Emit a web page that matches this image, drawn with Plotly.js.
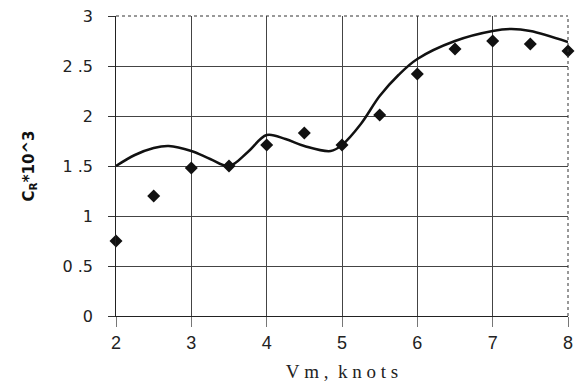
<!DOCTYPE html>
<html>
<head>
<meta charset="utf-8">
<script src="https://cdn.plot.ly/plotly-3.0.1.min.js"></script>
<style>html,body{margin:0;padding:0;background:#fff;}#chart{width:576px;height:384px;}</style>
</head>
<body>
<div id="chart"></div>
<script>
// Measured points (diamonds)
const pointsX = [2, 2.5, 3, 3.5, 4, 4.5, 5, 5.5, 6, 6.5, 7, 7.5, 8];
const pointsY = [0.75, 1.2, 1.48, 1.5, 1.71, 1.83, 1.71, 2.01, 2.42, 2.67, 2.75, 2.72, 2.65];

// Smooth fitted curve
const curveX = [2, 2.25, 2.5, 2.7, 3, 3.25, 3.5, 3.75, 4, 4.25, 4.5, 4.85, 5, 5.25, 5.5, 5.75, 6, 6.5, 7, 7.25, 7.5, 8];
const curveY = [1.5, 1.61, 1.68, 1.70, 1.65, 1.57, 1.50, 1.64, 1.81, 1.77, 1.70, 1.65, 1.71, 1.92, 2.2, 2.41, 2.57, 2.75, 2.85, 2.87, 2.85, 2.74];

const yTickVals = [0, 0.5, 1, 1.5, 2, 2.5, 3];
const yTickText = ["0", "0 .5", "1", "1 .5", "2", "2 .5", "3"];
const xTickVals = [2, 3, 4, 5, 6, 7, 8];
const xTitle = 'V\u00a0m\u00a0,\u00a0\u00a0k\u00a0n\u00a0o\u00a0t\u00a0s';
const yTitle = '\u00a0\u00a0\u00a0<b>C<sub>R</sub>*10^3</b>';
const pad = '\u00a0\u00a0\u200a';

const traces = [
  {
    x: curveX, y: curveY, mode: 'lines', type: 'scatter',
    line: {color: '#111', width: 2.5, shape: 'spline', smoothing: 1},
    hoverinfo: 'skip', showlegend: false
  },
  {
    x: pointsX, y: pointsY, mode: 'markers', type: 'scatter',
    marker: {symbol: 'diamond', size: 10, color: '#111'},
    showlegend: false, cliponaxis: false
  }
];

const layout = {
  width: 576, height: 384,
  margin: {l: 116, r: 8, t: 16, b: 68, autoexpand: false},
  paper_bgcolor: '#fff', plot_bgcolor: '#fff',
  font: {family: 'Liberation Sans, Arial, sans-serif', color: '#222', size: 16},
  showlegend: false,
  xaxis: {
    range: [2, 8], tickvals: xTickVals, ticktext: xTickVals.map(String),
    showgrid: true, gridcolor: '#444', gridwidth: 1,
    showline: true, linecolor: '#222', linewidth: 1,
    ticks: 'outside', ticklen: 10, tickcolor: '#777',
    automargin: true,
    zeroline: false,
    tickfont: {size: 18, family: 'Liberation Sans, Arial, sans-serif', color: '#222'},
    title: {text: xTitle, font: {family: 'Liberation Serif, Times New Roman, serif', size: 19, color: '#222'}, standoff: 13}
  },
  yaxis: {
    range: [0, 3], tickvals: yTickVals, ticktext: yTickText.map(t => t + pad),
    showgrid: true, gridcolor: '#444', gridwidth: 1,
    showline: true, linecolor: '#222', linewidth: 1,
    ticks: 'outside', ticklen: 7, tickcolor: '#333',
    automargin: true,
    zeroline: false,
    tickfont: {size: 16, family: 'DejaVu Sans, Verdana, sans-serif', color: '#222'},
    title: {text: yTitle, font: {family: 'DejaVu Sans, Verdana, sans-serif', size: 15, color: '#111'}, standoff: 24}
  },
  shapes: [
    {type: 'line', xref: 'paper', yref: 'paper', x0: 0, x1: 1, y0: 1, y1: 1, line: {color: '#333', width: 1, dash: 'dot'}},
    {type: 'line', xref: 'paper', yref: 'paper', x0: 1, x1: 1, y0: 0, y1: 1, line: {color: '#333', width: 1, dash: 'dot'}}
  ]
};

Plotly.newPlot('chart', traces, layout, {staticPlot: true, displayModeBar: false});
</script>
</body>
</html>
